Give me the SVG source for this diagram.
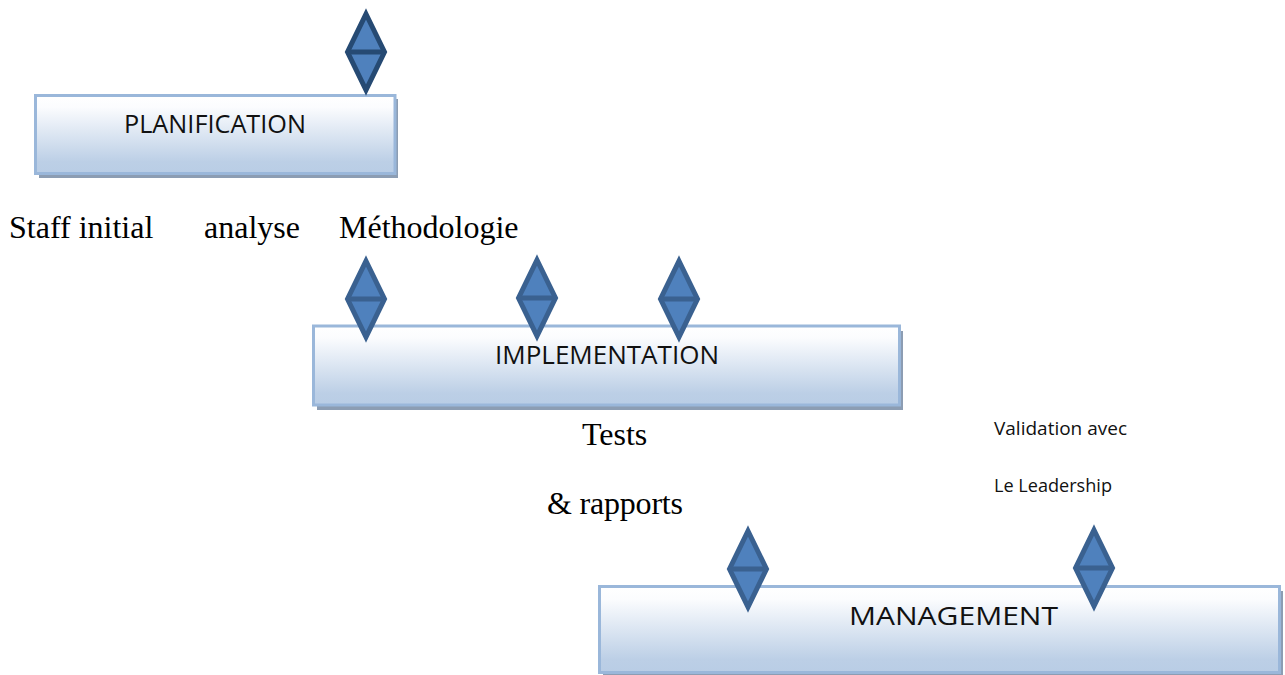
<svg xmlns="http://www.w3.org/2000/svg" width="1285" height="675" viewBox="0 0 1285 675">
<style>
.box{fill:url(#g);stroke:#9ab7da;stroke-width:3}
.shadow{fill:#8c9db3}
.d{fill:#4f81bd;stroke:#3a6190;stroke-width:5;stroke-linejoin:miter}
.dd{fill:#4f81bd;stroke:#264a73;stroke-width:5;stroke-linejoin:miter}
.m{font-family:"Liberation Serif",serif;font-size:32px;fill:#000}
.l{font-family:"Open Sans","Liberation Sans",sans-serif;font-size:25.500px;fill:#111}
.s{font-family:"Open Sans","Liberation Sans",sans-serif;font-size:18px;fill:#111}
</style>
<defs>
<linearGradient id="g" x1="0" y1="0" x2="0" y2="1"><stop offset="0" stop-color="#ffffff"/><stop offset="0.15" stop-color="#fbfcfe"/><stop offset="0.85" stop-color="#bccfe6"/><stop offset="1" stop-color="#b9cde5"/></linearGradient>
<g id="dia"><path d="M0-38L18.500 0L0 38L-18.500 0Z"/><path d="M-18.500 0H18.500"/></g>
</defs>
<rect width="1285" height="675" fill="#fff"/>
<g id="planification"><rect class="shadow" x="39" y="99" width="359" height="79"/><rect class="box" x="35.500" y="95.500" width="359.500" height="78"/><text class="l" x="124" y="133" textLength="182" lengthAdjust="spacingAndGlyphs">PLANIFICATION</text></g>
<g id="implementation"><rect class="shadow" x="317" y="331" width="586" height="79"/><rect class="box" x="313.500" y="326" width="586" height="79"/><text class="l" x="495" y="364" textLength="224" lengthAdjust="spacingAndGlyphs">IMPLEMENTATION</text></g>
<g id="management"><rect class="shadow" x="603" y="591" width="680" height="84"/><rect class="box" x="599.500" y="586.500" width="680" height="86"/><text class="l" x="849" y="625" textLength="209" lengthAdjust="spacingAndGlyphs">MANAGEMENT</text></g>
<g id="d1" class="dd"><use href="#dia" x="366" y="52"/></g>
<g id="d2" class="d"><use href="#dia" x="366" y="299"/></g>
<g id="d3" class="d"><use href="#dia" x="537" y="298"/></g>
<g id="d4" class="d"><use href="#dia" x="679" y="299"/></g>
<g id="d5" class="d"><use href="#dia" x="748" y="569"/></g>
<g id="d6" class="d"><use href="#dia" x="1094" y="568"/></g>
<g id="labels">
<text class="m" x="9" y="238">Staff initial</text>
<text class="m" x="204" y="238">analyse</text>
<text class="m" x="339" y="238">Méthodologie</text>
<text class="m" x="582" y="445">Tests</text>
<text class="m" x="547" y="514" textLength="136">&amp; rapports</text>
<text class="s" x="994" y="435" textLength="133" lengthAdjust="spacingAndGlyphs">Validation avec</text>
<text class="s" x="994" y="492" textLength="118" lengthAdjust="spacingAndGlyphs">Le Leadership</text>
</g>
<g id="connectors"/>
</svg>
